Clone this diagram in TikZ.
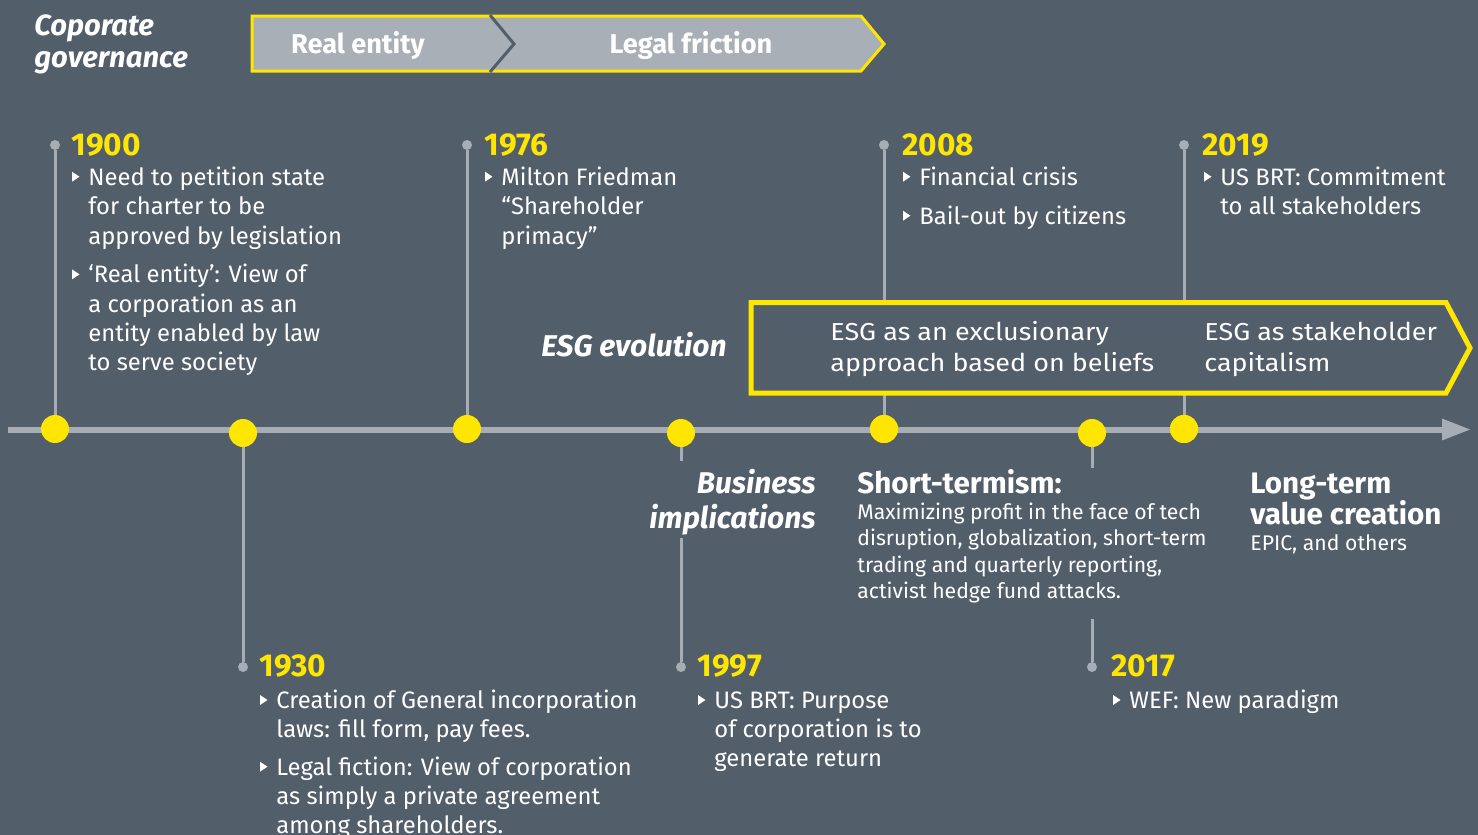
\documentclass[tikz,border=0pt]{standalone}
\usepackage{fontspec}
\setmainfont{Fira Sans}
\newfontfamily\esgf{Fira Sans}[FakeStretch=1.1]
\usetikzlibrary{arrows.meta}
\definecolor{bg}{RGB}{83,94,107}
\definecolor{eyy}{RGB}{255,230,0}
\definecolor{lgray}{RGB}{166,173,180}
\definecolor{chev}{RGB}{168,175,182}
\newcommand\tblock[5]{%
  \foreach \t [count=\i from 0] in {#5} \node[txt] (#1-\i) at (#2,{#3+#4*\i}) {\t};}
\newcommand\eblock[5]{%
  \foreach \t [count=\i from 0] in {#5} \node[esg] (#1-\i) at (#2,{#3+#4*\i}) {\t};}
\newcommand\btri[2]{\fill[white] (#1,{#2-13.3}) -- ({#1+7.5},{#2-8.3}) -- (#1,{#2-3.3}) -- cycle;}
\begin{document}
\begin{tikzpicture}[x=0.5pt,y=-0.5pt,
  txt/.style={anchor=base west, inner sep=0pt, text=white, font=\fontsize{11.9}{14}\selectfont},
  sm/.style={txt, font=\fontsize{10.6}{12}\selectfont},
  yr/.style={anchor=base west, inner sep=0pt, text=eyy, font=\fontsize{15.8}{18}\selectfont\bfseries},
  hd/.style={anchor=base west, inner sep=0pt, text=white, font=\fontsize{14.8}{17}\selectfont\bfseries},
  hdi/.style={anchor=base east, inner sep=0pt, text=white, font=\fontsize{15}{17}\selectfont\bfseries\itshape},
  esg/.style={anchor=base west, inner sep=0pt, text=white, font=\esgf\fontsize{12.25}{14}\selectfont},
  chevtxt/.style={anchor=base, inner sep=0pt, text=white, font=\fontsize{13.6}{15}\selectfont\bfseries},
  ttl/.style={anchor=base west, inner sep=0pt, text=white, font=\fontsize{14.6}{17}\selectfont\bfseries\itshape},
  ydot/.style={circle, fill=eyy, inner sep=0pt, minimum size=14pt},
  sdot/.style={circle, fill=lgray, inner sep=0pt, minimum size=5pt},
  stem/.style={draw=lgray, line width=1.5pt},
  tl/.style={draw=lgray, line width=3pt}]
\fill[bg] (0,0) rectangle (1478,835);
\useasboundingbox (0,0) rectangle (1478,835);

% title
\node[ttl] (cg1) at (34,35) {Coporate};
\node[ttl] (cg2) at (34,67) {governance};

% chevrons
\draw[fill=chev, draw=eyy, line width=1.5pt] (252,16) -- (861,16) -- (884,44) -- (861,71) -- (252,71) -- cycle;
\draw[bg, line width=1.5pt] (490,15) -- (514,44) -- (490,72);
\node[chevtxt] (re) at (358,53.5) {Real entity};
\node[chevtxt] (lf) at (691,53.5) {Legal friction};

% timeline
\coordinate (tl0) at (8,429.5);
\coordinate (tl1) at (1471,429.5);
\draw[tl, -{Triangle[length=14.5pt,width=10pt]}] (tl0) -- (tl1);

% dots
\node[ydot] (d1900) at (55,429) {};
\node[ydot] (d1930) at (243,433) {};
\node[ydot] (d1976) at (467,429) {};
\node[ydot] (d1997) at (681,433) {};
\node[ydot] (d2008) at (884,429) {};
\node[ydot] (d2017) at (1092,433) {};
\node[ydot] (d2019) at (1184,429) {};

\node[sdot] (s1900) at (55,145) {};
\node[sdot] (s1976) at (467,145) {};
\node[sdot] (s2008) at (884,145) {};
\node[sdot] (s2019) at (1184,145) {};
\node[sdot] (s1930) at (243,667) {};
\node[sdot] (s1997) at (681,667) {};
\node[sdot] (s2017) at (1092,667) {};

\draw[stem] (s1900) -- (d1900);
\draw[stem] (s1976) -- (d1976);
\draw[stem] (s2008) -- (d2008);
\draw[stem] (s2019) -- (d2019);
\draw[stem] (d1930) -- (s1930);
\coordinate (c1997a) at (681,461);
\coordinate (c1997b) at (681,538);
\draw[stem] (d1997) -- (c1997a);
\draw[stem] (c1997b) -- (s1997);
\coordinate (c2017a) at (1092,468);
\coordinate (c2017b) at (1092,619);
\draw[stem] (d2017) -- (c2017a);
\draw[stem] (c2017b) -- (s2017);

% ESG box
\draw[fill=bg, draw=eyy, line width=2.5pt] (751,302.5) -- (1446,302.5) -- (1470,348) -- (1446,393) -- (751,393) -- cycle;
\node[ydot] at (884,429) {};
\node[ydot] at (1184,429) {};
\eblock{esgA}{830}{340}{31.7}{ESG as an exclusionary, approach based on beliefs}
\eblock{esgB}{1204}{340}{31.7}{ESG as stakeholder, capitalism}
\node[hdi] (esgev) at (727,356) {ESG evolution};

% 1900
\node[yr] (y1900) at (71,155) {1900};
\btri{72}{185}
\tblock{t1900a}{88}{185}{29.7}{Need to petition state, for charter to be, approved by legislation}
\btri{72}{282.7}
\tblock{t1900b}{88}{282.7}{29.4}{‘Real entity’: View of, a corporation as an, entity enabled by law, to serve society}

% 1976
\node[yr] (y1976) at (484,155) {1976};
\btri{485}{185}
\tblock{t1976}{501}{185}{29.7}{Milton Friedman, “Shareholder, primacy”}

% 2008
\node[yr] (y2008) at (902,155) {2008};
\btri{903}{185}
\node[txt] (t2008a) at (919,185) {Financial crisis};
\btri{903}{224}
\node[txt] (t2008b) at (919,224) {Bail-out by citizens};

% 2019
\node[yr] (y2019) at (1202,155) {2019};
\btri{1204}{185}
\tblock{t2019}{1220}{185}{29.7}{US BRT: Commitment, to all stakeholders}

% 1930
\node[yr] (y1930) at (259,676.7) {1930};
\btri{260}{708.3}
\tblock{t1930a}{276}{708.3}{29}{Creation of General incorporation, {laws: fill form, pay fees.}}
\btri{260}{775}
\tblock{t1930b}{276}{775}{29}{Legal fiction: View of corporation, as simply a private agreement, among shareholders.}

% 1997
\node[yr] (y1997) at (697,676.7) {1997};
\btri{698}{708.3}
\tblock{t1997}{714}{708.3}{29}{US BRT: Purpose, of corporation is to, generate return}

% 2017
\node[yr] (y2017) at (1111,676.7) {2017};
\btri{1113}{708.3}
\node[txt] (t2017) at (1129,708.3) {WEF: New paradigm};

% business implications
\node[hdi] (bi1) at (816,493.3) {Business};
\node[hdi] (bi2) at (816,528) {implications};

\node[hd] (st) at (857,493.3) {Short-termism:};
\foreach \t [count=\i from 0] in {Maximizing profit in the face of tech, {disruption, globalization, short-term}, {trading and quarterly reporting,}, activist hedge fund attacks.}
  \node[sm] (st-\i) at (857,{519.3+26.4*\i}) {\t};

\node[hd] (lt1) at (1250,493.3) {Long-term};
\node[hd] (lt2) at (1250,524) {value creation};
\node[sm] (lt3) at (1250,550.7) {EPIC, and others};
\end{tikzpicture}
\end{document}
